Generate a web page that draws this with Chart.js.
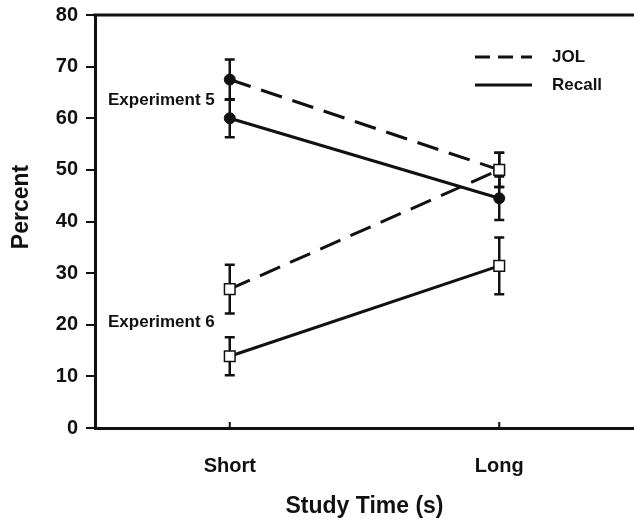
<!DOCTYPE html>
<html><head><meta charset="utf-8">
<script src="https://cdn.jsdelivr.net/npm/chart.js@4/dist/chart.umd.min.js"></script>
<style>html,body{margin:0;padding:0;background:#fff}canvas{display:block}</style>
</head><body>
<canvas id="c" width="634" height="523"></canvas>
<script>
// ---- data ----
const categories = ['Short', 'Long'];
const exp5JOL = [67.5, 50.0];
const exp5Recall = [60.0, 44.5];
const exp6JOL = [26.9, 50.0];
const exp6Recall = [13.9, 31.4];
const exp5JOLErr = [3.9, 3.3];
const exp5RecallErr = [3.7, 4.2];
const exp6JOLErr = [4.7, 3.3];
const exp6RecallErr = [3.7, 5.5];
const yTicks = [0, 10, 20, 30, 40, 50, 60, 70, 80];
const legendLabels = ['JOL', 'Recall'];
const experimentLabels = ['Experiment 5', 'Experiment 6'];
const experimentLabelValues = [63.5, 20.5];
const yTitle = 'Percent';
const xTitle = 'Study Time (s)';

const FONT = '"Liberation Sans", Arial, Helvetica, sans-serif';
const INK = '#111';
const DASH = [22, 11];

function lineDs(label, data, err, dashed, square) {
  return {
    label, data, err,
    borderColor: INK, borderWidth: 3,
    borderDash: dashed ? DASH : [],
    pointStyle: square ? 'rect' : 'circle',
    pointRadius: square ? 7.5 : 5.5,
    pointBackgroundColor: square ? '#fff' : INK,
    pointBorderColor: INK,
    pointBorderWidth: square ? 1.5 : 1,
    fill: false, tension: 0
  };
}

const errorBars = {
  id: 'errorBars',
  beforeDatasetsDraw(chart) {
    const {ctx, scales: {y}} = chart;
    ctx.save();
    ctx.strokeStyle = INK;
    ctx.lineWidth = 2.5;
    ctx.setLineDash([]);
    chart.data.datasets.forEach((ds, i) => {
      const meta = chart.getDatasetMeta(i);
      ds.data.forEach((v, j) => {
        const x = meta.data[j].x;
        const t = y.getPixelForValue(v + ds.err[j]);
        const b = y.getPixelForValue(v - ds.err[j]);
        ctx.beginPath();
        ctx.moveTo(x, t); ctx.lineTo(x, b);
        ctx.moveTo(x - 5, t); ctx.lineTo(x + 5, t);
        ctx.moveTo(x - 5, b); ctx.lineTo(x + 5, b);
        ctx.stroke();
      });
    });
    ctx.restore();
  }
};

const decorations = {
  id: 'decorations',
  afterDraw(chart) {
    const {ctx, chartArea: a, scales: {x, y}} = chart;
    ctx.save();
    ctx.strokeStyle = INK;
    ctx.fillStyle = INK;
    // top frame line
    ctx.lineWidth = 3;
    ctx.beginPath();
    ctx.moveTo(a.left - 1.5, a.top); ctx.lineTo(a.right, a.top);
    ctx.stroke();
    // inward x ticks
    ctx.lineWidth = 2;
    categories.forEach((c, i) => {
      const px = x.getPixelForValue(i);
      ctx.beginPath();
      ctx.moveTo(px, a.bottom); ctx.lineTo(px, a.bottom - 6);
      ctx.stroke();
    });
    // legend
    const lx0 = 475, lx1 = 532;
    const rows = [a.top + 42, a.top + 70];
    ctx.lineWidth = 3;
    [[15, 8], []].forEach((d, i) => {
      ctx.setLineDash(d);
      ctx.beginPath();
      ctx.moveTo(lx0, rows[i]); ctx.lineTo(lx1, rows[i]);
      ctx.stroke();
    });
    ctx.setLineDash([]);
    ctx.font = 'bold 17px ' + FONT;
    ctx.textBaseline = 'middle';
    ctx.textAlign = 'left';
    legendLabels.forEach((t, i) => ctx.fillText(t, 552, rows[i]));
    // experiment labels
    experimentLabels.forEach((t, i) => {
      ctx.fillText(t, a.left + 13, y.getPixelForValue(experimentLabelValues[i]));
    });
    // y title
    ctx.save();
    ctx.translate(22, 207);
    ctx.rotate(-Math.PI / 2);
    ctx.textAlign = 'center';
    ctx.font = 'bold 23px ' + FONT;
    ctx.fillText(yTitle, 0, 0);
    ctx.restore();
    ctx.restore();
  }
};

new Chart(document.getElementById('c'), {
  type: 'line',
  data: {
    labels: categories,
    datasets: [
      lineDs('Exp6 JOL', exp6JOL, exp6JOLErr, true, true),
      lineDs('Exp6 Recall', exp6Recall, exp6RecallErr, false, true),
      lineDs('Exp5 JOL', exp5JOL, exp5JOLErr, true, false),
      lineDs('Exp5 Recall', exp5Recall, exp5RecallErr, false, false)
    ]
  },
  options: {
    responsive: false,
    animation: false,
    devicePixelRatio: 1,
    layout: {autoPadding: false, padding: {top: 15, right: 0, left: 0, bottom: 0}},
    plugins: {legend: {display: false}, tooltip: {enabled: false}},
    scales: {
      x: {
        type: 'category',
        offset: true,
        grid: {display: false},
        border: {display: true, color: INK, width: 3},
        ticks: {color: INK, font: {family: FONT, size: 20, weight: 'bold'}, padding: 18, maxRotation: 0},
        title: {display: true, text: xTitle, color: INK, font: {family: FONT, size: 23, weight: 'bold'}, padding: {top: 0, bottom: 3}},
        afterFit(s) { s.height = 95; s.paddingLeft = 0; s.paddingRight = 0; }
      },
      y: {
        min: 0, max: 80,
        afterBuildTicks(s) { s.ticks = yTicks.map(v => ({value: v})); },
        grid: {display: true, drawOnChartArea: false, drawTicks: true, tickLength: 9, color: INK, lineWidth: 2},
        border: {display: true, color: INK, width: 3},
        ticks: {color: INK, font: {family: FONT, size: 20, weight: 'bold'}, padding: 8},
        afterFit(s) { s.width = 95; s.paddingTop = 0; s.paddingBottom = 0; }
      }
    }
  },
  plugins: [errorBars, decorations]
});
</script>
</body></html>
